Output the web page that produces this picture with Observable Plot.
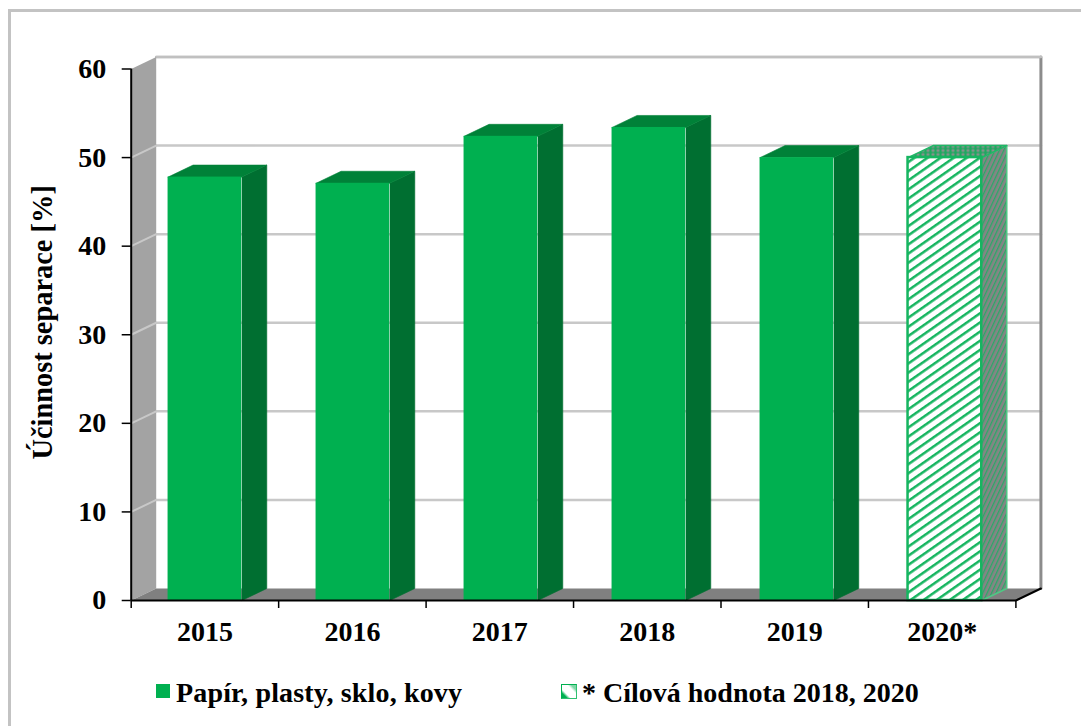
<!DOCTYPE html>
<html lang="cs">
<head>
<meta charset="utf-8">
<script src="https://cdn.jsdelivr.net/npm/d3@7"></script>
<script src="https://cdn.jsdelivr.net/npm/@observablehq/plot@0.6"></script>
<style>
  html, body { margin: 0; padding: 0; background: #fff; overflow: hidden; }
  #page { position: relative; width: 1081px; height: 726px; font-family: "Liberation Serif", serif; font-weight: bold; color: #000; }
  #frame { position: absolute; left: 8px; top: 9px; right: -10px; bottom: -10px; border: 3px solid #c3c3c3; }
  #chart { position: absolute; left: 0; top: 0; }
  #chart svg { display: block; overflow: visible; background: transparent; }
  #legend { position: absolute; left: 0; top: 660px; width: 1081px; height: 66px; font-size: 28px; line-height: 66px; }
  #legend span { position: absolute; top: 0; white-space: nowrap; }
  #legend i { position: absolute; display: block; box-sizing: border-box; }
  #sw1 { left: 156px; top: 24px; width: 14px; height: 14px; background: #00b050; }
  #sw2 { left: 561px; top: 24px; width: 16px; height: 15px; border: 1.5px solid #2fc070; border-top-color: #00b050; border-left-color: #00b050;
         background: linear-gradient(45deg, #00b050 0 18%, #ffffff 32% 68%, #7fd8a7 82% 100%); }
</style>
</head>
<body>
<div id="page">
  <div id="frame"></div>
  <div id="chart"></div>
  <div id="legend">
    <i id="sw1"></i><span style="left:176px;letter-spacing:0.16px">Papír, plasty, sklo, kovy</span>
    <i id="sw2"></i><span style="left:582px">* Cílová hodnota 2018, 2020</span>
  </div>
</div>
<script>
const years = ["2015", "2016", "2017", "2018", "2019", "2020*"];
const values = [47.8, 47.1, 52.4, 53.4, 50.0, 50.0];
const yTicks = [0, 10, 20, 30, 40, 50, 60];
const yLabel = "Účinnost separace [%]";

// 3D look of the original: depth of the box, in data units.
const depthX = 25 / 147.4;
const depthY = 12 / 8.858;
const barDrift = 1.0037; // bars drift slightly to the right of their categories in the original
const font = "Liberation Serif";
const n = years.length;
const yMax = yTicks[yTicks.length - 1];

const poly = (id, pts) => pts.map(([x, y]) => ({id, x, y}));
const barX1 = i => i * barDrift + 0.25;
const barX2 = i => i * barDrift + 0.75;

const bars = years.map((year, i) => ({
  year, i, value: values[i], target: i === n - 1, x1: barX1(i), x2: barX2(i)
}));
const solid = bars.filter(d => !d.target);
const target = bars.filter(d => d.target);

const sideFace = d => poly("s" + d.i, [[d.x2, 0], [d.x2 + depthX, depthY], [d.x2 + depthX, d.value + depthY], [d.x2, d.value]]);
const topFace = d => poly("t" + d.i, [[d.x1, d.value], [d.x1 + depthX, d.value + depthY], [d.x2 + depthX, d.value + depthY], [d.x2, d.value]]);

const wallFace = poly("wall", [[0, 0], [depthX, depthY], [depthX, yMax + depthY], [0, yMax]]);
const floorFace = poly("floor", [[0, 0], [depthX, depthY], [n + depthX, depthY], [n, 0]]);
const backFrame = [
  {x: depthX, y: yMax + depthY},
  {x: n + depthX, y: yMax + depthY}
];
const rightEdge = [
  {x: n + depthX, y: depthY},
  {x: n + depthX, y: yMax + depthY}
];
const floorEdge = [{x: n, y: 0}, {x: n + depthX, y: depthY}];
const gridBack = yTicks.filter(t => t > 0).flatMap(t => [{t, x: depthX, y: t + depthY}, {t, x: n + depthX, y: t + depthY}]);
const gridWall = yTicks.filter(t => t > 0 && t < yMax).flatMap(t => [{t, x: 0, y: t}, {t, x: depthX, y: t + depthY}]);

const chart = Plot.plot({
  width: 1081,
  height: 660,
  marginLeft: 130.7,
  marginRight: 65.6,
  marginTop: 68.5,
  marginBottom: 60,
  style: {background: "transparent", fontFamily: font},
  x: {type: "linear", domain: [0, n], axis: null},
  y: {type: "linear", domain: [0, yMax], axis: null},
  marks: [
    // back wall
    Plot.line(gridBack, {x: "x", y: "y", z: "t", stroke: "#c8c8c8", strokeWidth: 2.5}),
    Plot.line(rightEdge, {x: "x", y: "y", stroke: "#8c8c8c", strokeWidth: 3}),
    Plot.line(backFrame, {x: "x", y: "y", stroke: "#c0c0c0", strokeWidth: 2.5}),
    // side wall and floor
    Plot.line(wallFace, {x: "x", y: "y", z: "id", fill: "#a3a3a3", stroke: "none"}),
    Plot.line(gridWall, {x: "x", y: "y", z: "t", stroke: "#c8c8c8", strokeWidth: 2}),
    Plot.line(floorFace, {x: "x", y: "y", z: "id", fill: "#808080", stroke: "none"}),
    // solid bars
    Plot.line(solid.flatMap(sideFace), {x: "x", y: "y", z: "id", fill: "#006f31", stroke: "#006f31", strokeWidth: 0.6}),
    Plot.line(solid.flatMap(topFace), {x: "x", y: "y", z: "id", fill: "#008138", stroke: "#008138", strokeWidth: 0.6}),
    Plot.rect(solid, {x1: "x1", x2: "x2", y1: 0, y2: "value", fill: "#00b050"}),
    // target bar
    Plot.line(target.flatMap(sideFace), {x: "x", y: "y", z: "id", fill: "url(#hatchSide)", stroke: "#4fc884", strokeWidth: 1.5}),
    Plot.line(target.flatMap(topFace), {x: "x", y: "y", z: "id", fill: "url(#hatchTop)", stroke: "#1fb866", strokeWidth: 1.5}),
    Plot.rect(target, {x1: "x1", x2: "x2", y1: 0, y2: "value", fill: "url(#hatchFront)", stroke: "#16b560", strokeWidth: 2.5}),
    // axes
    Plot.line(floorEdge, {x: "x", y: "y", stroke: "#000", strokeWidth: 2}),
    Plot.ruleY([0], {x1: 0, x2: n, stroke: "#000", strokeWidth: 2}),
    Plot.ruleX([0], {y1: 0, y2: yMax, stroke: "#000", strokeWidth: 2}),
    Plot.axisY({
      ticks: yTicks, tickSize: 9, tickPadding: 16, stroke: "#000", strokeWidth: 1.5,
      fontSize: 28, fontWeight: "bold", fontFamily: font, fill: "#000", label: null
    }),
    Plot.axisX({
      ticks: d3.range(0, n + 1), tickSize: 8, tickFormat: () => "", stroke: "#000", strokeWidth: 1.5, label: null
    }),
    Plot.axisX({
      ticks: years.map((_, i) => i + 0.5), tickSize: 0, tickPadding: 20.5,
      tickFormat: v => years[Math.floor(v)], fontSize: 28, fontWeight: "bold", fontFamily: font, fill: "#000", label: null
    }),
    Plot.text([yLabel], {
      frameAnchor: "left", y: [31.4], dx: -88, rotate: -90, text: d => d, textAnchor: "middle",
      fontSize: 28.4, fontWeight: "bold", fontFamily: font, fill: "#000"
    })
  ]
});

document.getElementById("chart").append(chart);

// hatch patterns of the target bar
const defs = d3.select(chart).insert("defs", ":first-child");
function hatch(id, size, back, stripe, width, angle) {
  const p = defs.append("pattern").attr("id", id).attr("patternUnits", "userSpaceOnUse")
    .attr("width", size).attr("height", size).attr("patternTransform", `rotate(${angle})`);
  p.append("rect").attr("width", size).attr("height", size).attr("fill", back);
  p.append("rect").attr("width", width).attr("height", size).attr("fill", stripe);
}
hatch("hatchFront", 7.5, "#ffffff", "#16b560", 2.5, 55);
hatch("hatchSide", 4, "#858585", "#2aa868", 1.3, 25);
const topPattern = defs.append("pattern").attr("id", "hatchTop").attr("patternUnits", "userSpaceOnUse").attr("width", 5).attr("height", 4);
topPattern.append("rect").attr("width", 5).attr("height", 4).attr("fill", "#1fa860");
topPattern.append("circle").attr("cx", 2.5).attr("cy", 2).attr("r", 1.5).attr("fill", "#8f8f8f");
</script>
</body>
</html>
